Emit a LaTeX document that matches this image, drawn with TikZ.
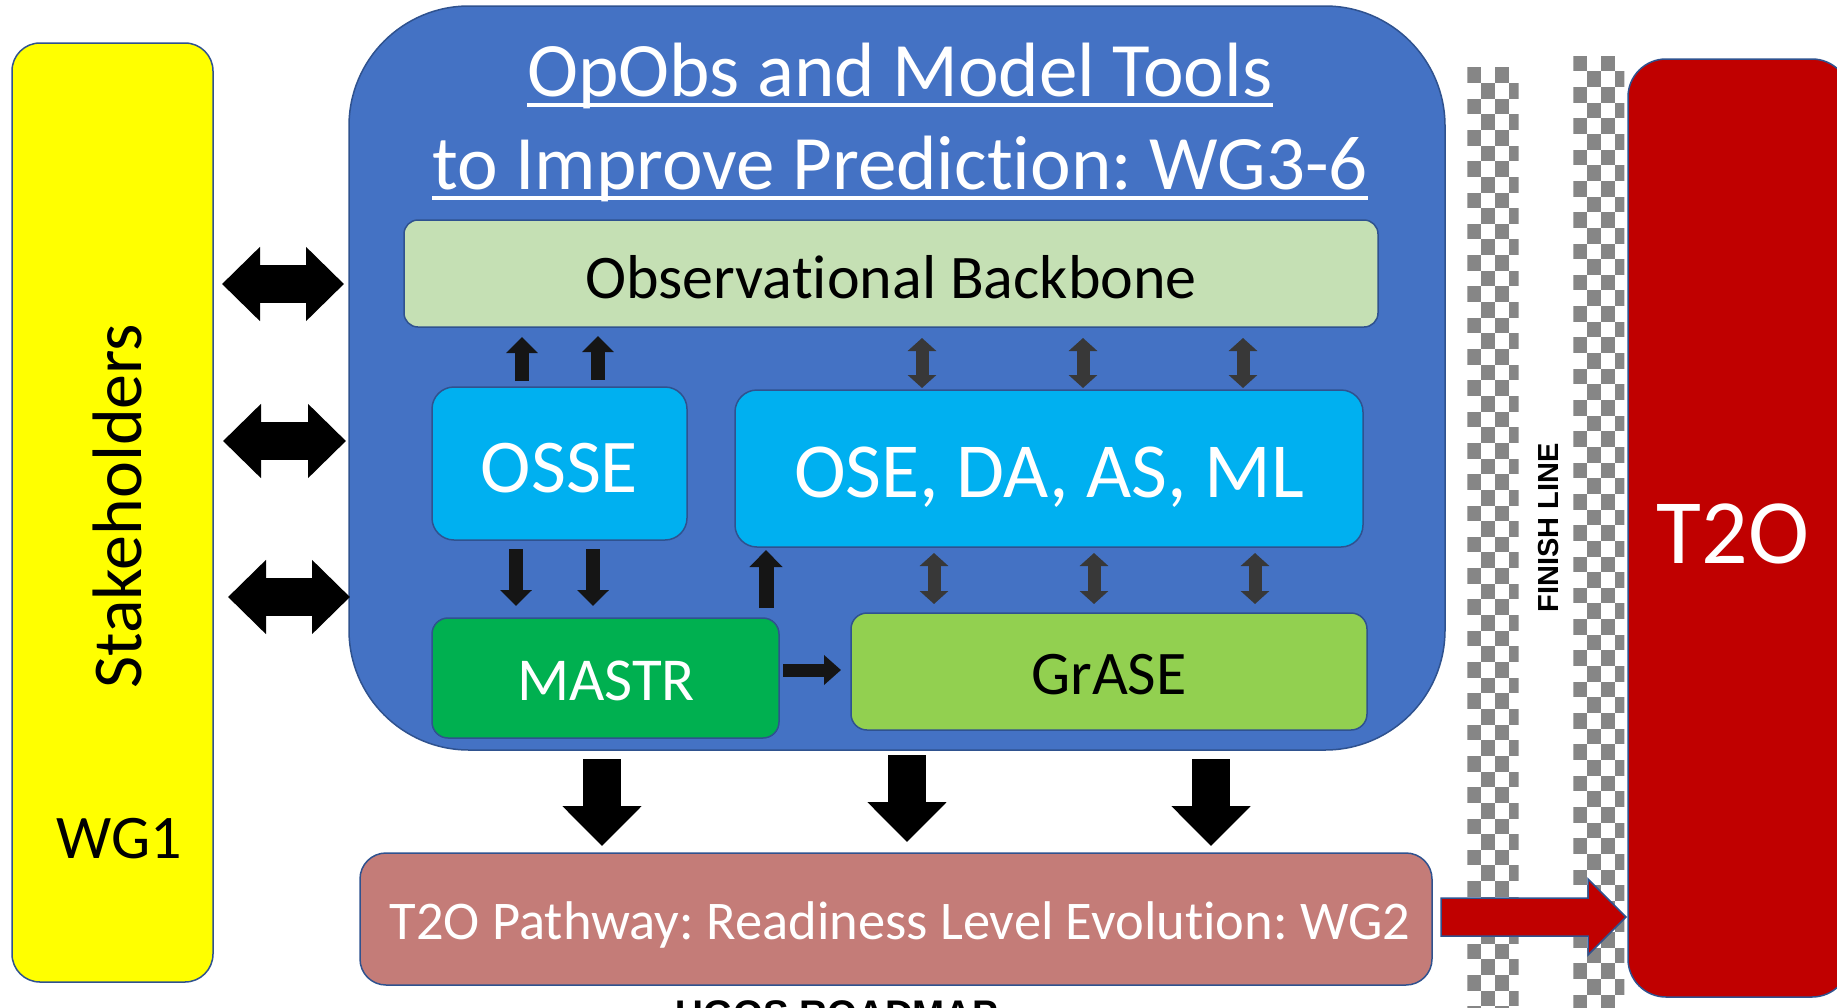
\documentclass[tikz,border=0pt]{standalone}
\usepackage{fontspec}
\setmainfont{Carlito}[Ligatures={NoCommon,NoRequired,NoContextual}]
\newfontfamily\arialfont{Liberation Sans}
\usetikzlibrary{arrows.meta,calc}
\frenchspacing
\definecolor{cyellow}{HTML}{FFFF00}
\definecolor{cblue}{HTML}{4472C4}
\definecolor{cedge}{HTML}{2F528F}
\definecolor{cobs}{HTML}{C5E0B4}
\definecolor{ccyan}{HTML}{00B0F0}
\definecolor{cmastr}{HTML}{00B050}
\definecolor{cgrase}{HTML}{92D050}
\definecolor{cpath}{HTML}{C47C78}
\definecolor{cred}{HTML}{C00000}
\definecolor{cchk}{HTML}{868686}
\definecolor{cdark}{HTML}{383838}
\definecolor{cblack}{HTML}{151515}
\tikzset{
  box/.style={rectangle, draw=cedge, line width=1.5pt, inner sep=0pt},
  lbl/.style={inner sep=0pt, anchor=base},
  bigarrow/.style={black, line width=38pt, -{Triangle[width=77pt,length=40pt]}},
  lrarrow/.style={black, line width=38pt, {Triangle[width=72pt,length=38pt]}-{Triangle[width=72pt,length=38pt]}},
  smallarrow/.style={cblack, line width=14pt, -{Triangle[width=31pt,length=16pt]}},
  vdarrow/.style={cdark, line width=13pt, {Triangle[width=28pt,length=13pt]}-{Triangle[width=28pt,length=13pt]}},
}
\newcommand{\fsz}[1]{\fontsize{#1}{#1}\selectfont}
\newcommand{\tI}{t\kern0pt i}
\begin{document}
\begin{tikzpicture}[x=1pt,y=-1pt]
\useasboundingbox (0,0) rectangle (1837,1007);
\fill[white] (0,0) rectangle (1837,1007);

% checkered finish line strips
\begin{scope}
\clip (1467.3,67.3) rectangle (1518.7,1010);
\foreach \r [evaluate=\r as \o using {mod(\r,2)*14}] in {0,...,60} {
  \fill[cchk] (1467.3+\o, 67.3+\r*15.65) rectangle ++(14,15.65);
  \fill[cchk] (1467.3+\o+28, 67.3+\r*15.65) rectangle ++(14,15.65);
}
\end{scope}
\begin{scope}
\clip (1573.3,55.7) rectangle (1624.3,1010);
\foreach \r [evaluate=\r as \o using {mod(\r,2)*14}] in {0,...,62} {
  \fill[cchk] (1573.3+\o, 55.7+\r*15.65) rectangle ++(14,15.65);
  \fill[cchk] (1573.3+\o+28, 55.7+\r*15.65) rectangle ++(14,15.65);
}
\end{scope}

% boxes
\node[box, fill=cyellow, rounded corners=28pt, minimum width=201pt, minimum height=939pt] (stake) at (112.5,512.5) {};
\node[box, fill=cblue, rounded corners=120pt, minimum width=1096pt, minimum height=744pt] (main) at (897,378) {};
\node[box, fill=cobs, rounded corners=14pt, minimum width=974pt, minimum height=107pt] (obs) at (891,273.5) {};
\node[box, fill=ccyan, rounded corners=22pt, minimum width=255pt, minimum height=153pt] (osse) at (559.5,463.5) {};
\node[box, fill=ccyan, rounded corners=22pt, minimum width=628pt, minimum height=157pt] (ose) at (1049,468.5) {};
\node[box, fill=cmastr, rounded corners=16pt, minimum width=347pt, minimum height=120pt] (mastr) at (605.5,678) {};
\node[box, fill=cgrase, rounded corners=16pt, minimum width=516pt, minimum height=117pt] (grase) at (1109,671.5) {};
\node[box, fill=cpath, rounded corners=26pt, minimum width=1072pt, minimum height=132pt] (path) at (896,919) {};
\node[box, fill=cred, rounded corners=38pt, minimum width=222pt, minimum height=938pt] (t2o) at (1739,528) {};

% texts
\node[lbl, rotate=90] (stakeT) at (141,506) {\fsz{70}Stakeholders};
\node[lbl] (wg1) at (119,858) {\fsz{62}WG1};
\node[lbl, text=white] (title1) at (900,96) {\fsz{77}OpObs and Model Tools};
\node[lbl, text=white] (title2) at (900,189) {\fsz{77}to Improve Predic\tI on: WG3-6};
\draw[white, line width=4pt] ($(title1.base west)+(0,9)$) -- ($(title1.base east)+(0,9)$);
\draw[white, line width=4pt] ($(title2.base west)+(0,9)$) -- ($(title2.base east)+(0,9)$);
\node[lbl] (obsT) at (891,298) {\fsz{62}Observa\tI onal Backbone};
\node[lbl, text=white] (osseT) at (559.5,492) {\fsz{76}OSSE};
\node[lbl, text=white] (oseT) at (1049,497) {\fsz{78}OSE, DA, AS, ML};
\node[lbl, text=white] (mastrT) at (606,700) {\fsz{61}MASTR};
\node[lbl] (graseT) at (1109,694) {\fsz{62}GrASE};
\node[lbl, text=white] (pathT) at (900,939) {\fsz{54.5}T2O Pathway: Readiness Level Evolu\tI on: WG2};
\node[lbl, text=white] (t2oT) at (1733,563) {\fsz{92}T2O};
\node[lbl, rotate=90] (finish) at (1558,528) {\arialfont\bfseries\fsz{29}FINISH LINE};
\node[lbl] (ugos) at (837,1027) {\arialfont\bfseries\fsz{38.5}UGOS ROADMAP};

% stakeholder double arrows
\coordinate (la1) at (222,284); \coordinate (lb1) at (344,284);
\coordinate (la2) at (223,441); \coordinate (lb2) at (346,441);
\coordinate (la3) at (228,597); \coordinate (lb3) at (350,597);
\draw[lrarrow] (la1) -- (lb1);
\draw[lrarrow] (la2) -- (lb2);
\draw[lrarrow] (la3) -- (lb3);

% OSSE arrows
\coordinate (ou1a) at (522,381); \coordinate (ou1b) at (522,337);
\coordinate (ou2a) at (598,380); \coordinate (ou2b) at (598,336);
\draw[smallarrow] (ou1a) -- (ou1b);
\draw[smallarrow] (ou2a) -- (ou2b);
\coordinate (od1a) at (516,549); \coordinate (od1b) at (516,606);
\coordinate (od2a) at (593,549); \coordinate (od2b) at (593,606);
\draw[smallarrow] (od1a) -- (od1b);
\draw[smallarrow] (od2a) -- (od2b);
\coordinate (mu1a) at (766,608); \coordinate (mu1b) at (766,550);
\draw[smallarrow, line width=15pt, -{Triangle[width=32pt,length=17pt]}] (mu1a) -- (mu1b);
\coordinate (mra) at (783,670); \coordinate (mrb) at (841,670);
\draw[smallarrow, line width=13pt, -{Triangle[width=29pt,length=17pt]}] (mra) -- (mrb);

% vertical double arrows
\foreach \x/\n in {922/1,1083/2,1243/3} {
  \coordinate (vu\n a) at (\x,338); \coordinate (vu\n b) at (\x,388);
  \draw[vdarrow] (vu\n a) -- (vu\n b);
}
\foreach \x/\n in {934/1,1094/2,1255/3} {
  \coordinate (vl\n a) at (\x,553); \coordinate (vl\n b) at (\x,604);
  \draw[vdarrow] (vl\n a) -- (vl\n b);
}

% big down arrows
\coordinate (bd1a) at (602,759); \coordinate (bd1b) at (602,846);
\coordinate (bd2a) at (907,755); \coordinate (bd2b) at (907,842);
\coordinate (bd3a) at (1211,759); \coordinate (bd3b) at (1211,846);
\draw[bigarrow] (bd1a) -- (bd1b);
\draw[bigarrow] (bd2a) -- (bd2b);
\draw[bigarrow] (bd3a) -- (bd3b);

% red arrow to T2O
\fill[cred, draw=cedge, line width=1.5pt] (1441,898) -- (1588,898) -- (1588,879) -- (1626,917) -- (1588,955) -- (1588,936) -- (1441,936) -- cycle;
\end{tikzpicture}
\end{document}
